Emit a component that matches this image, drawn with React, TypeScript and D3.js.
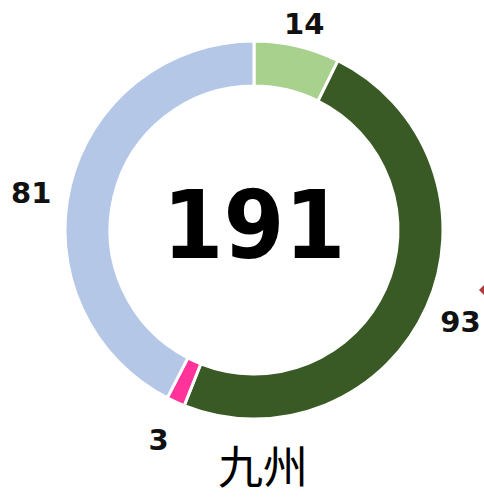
import React from "react";
import * as d3 from "d3";

const categories = ["A", "B", "C", "D"];
const values = [14, 93, 3, 81];
const colors = ["#A9D18E", "#3A5A25", "#FF3399", "#B4C7E7"];
const title = "九州";
// label layout: distance from centre and angular nudge (deg)
const labelDistance = [212, 226, 230, 226];
const labelNudge = [0.5, 0, 0, -4];

const W = 484;
const H = 499;

export default function App() {
  const cx = 254;
  const cy = 230;
  const outerR = 189;
  const innerR = 144;
  const total = d3.sum(values);

  const pie = d3.pie<number>().sort(null).value((d) => d);
  const arcs = pie(values);
  const arcGen = d3.arc<d3.PieArcDatum<number>>().innerRadius(innerR).outerRadius(outerR);

  return (
    <svg width={W} height={H} style={{ position: "absolute", left: 0, top: 0, background: "#fff" }}>
      <rect x={0} y={0} width={W} height={H} fill="#fff" />
      <g transform={`translate(${cx},${cy})`}>
        {arcs.map((a, i) => (
          <path key={categories[i]} d={arcGen(a) || ""} fill={colors[i]} stroke="#fff" strokeWidth={3} />
        ))}
        {arcs.map((a, i) => {
          const mid = (a.startAngle + a.endAngle) / 2 + (labelNudge[i] * Math.PI) / 180;
          const r = labelDistance[i];
          const x = Math.sin(mid) * r;
          const y = -Math.cos(mid) * r;
          return (
            <text
              key={"l" + i}
              x={x}
              y={y}
              dy="0.36em"
              textAnchor="middle"
              fontFamily="'DejaVu Sans', Verdana, sans-serif"
              fontWeight="bold"
              fontSize={29}
              fill="#111"
            >
              {values[i]}
            </text>
          );
        })}
        <text
          x={0}
          y={28}
          textAnchor="middle"
          fontFamily="'DejaVu Sans', Verdana, sans-serif"
          fontWeight="bold"
          fontSize={95}
          textLength={183}
          lengthAdjust="spacingAndGlyphs"
          fill="#000"
        >
          {total}
        </text>
      </g>
      <text
        x={263}
        y={484}
        textAnchor="middle"
        fontFamily="'Noto Sans CJK JP', 'Noto Sans CJK SC', sans-serif"
        fontSize={45}
        fill="#000"
      >
        {title}
      </text>
      <path d="M479,290 L484,285 L484,295 Z" fill="#b03a3a" />
    </svg>
  );
}
